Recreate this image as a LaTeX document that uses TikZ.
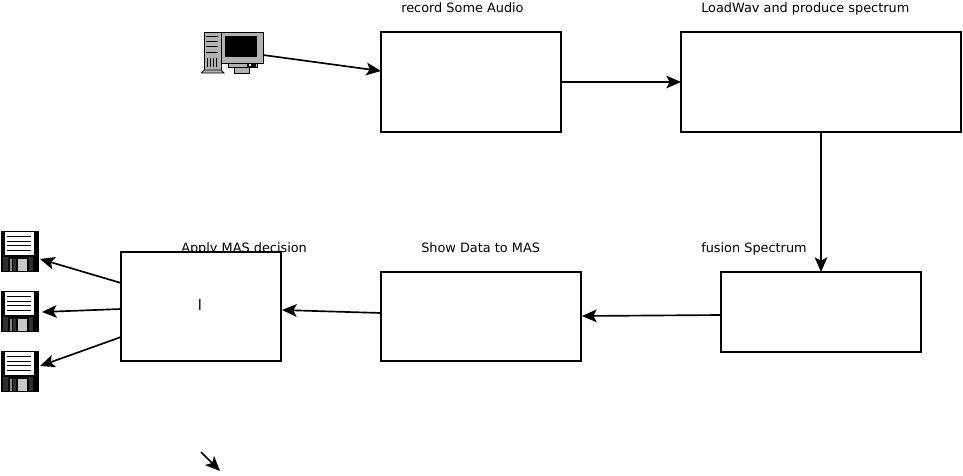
\documentclass[tikz,border=0pt]{standalone}
\usepackage{fontspec}
\setmainfont{DejaVu Sans}
\usetikzlibrary{arrows.meta}
\definecolor{pcgrey}{HTML}{B2B2B2}
\definecolor{fdark}{HTML}{303030}
\tikzset{
  procbox/.style={draw=black,fill=white,line width=1.1pt,inner sep=0pt,outer sep=0pt},
  caption/.style={anchor=base west,inner sep=0pt,font=\fontsize{9.65}{11}\selectfont,text=black},
  flow/.style={draw=black,line width=1.25pt,-{Stealth[length=11pt,width=9.5pt,inset=2.5pt]}},
  icon/.style={inner sep=0pt,outer sep=0pt},
  pcpic/.pic={
    \fill[pcgrey,draw=black,line width=.6pt] (204,32) rectangle (221,70);
    \fill[pcgrey,draw=black,line width=.6pt] (201.5,73) -- (204,70) -- (221,70) -- (224,73) -- cycle;
    \foreach \yy in {36,41,46}{\fill[black] (206,\yy) rectangle (218,\yy+.7);}
    \fill[black] (206,52) rectangle (218,53);
    \foreach \xx in {207,210,213,216}{\fill[black] (\xx,58) rectangle (\xx+1,67);}
    \fill[pcgrey,draw=black,line width=.6pt] (228,62) rectangle (257,67);
    \fill[pcgrey,draw=black,line width=.6pt] (234,67) rectangle (249,73);
    \fill[pcgrey,draw=black,line width=.6pt] (221,32) rectangle (263,63);
    \fill[black] (225,36) rectangle (257,57);
    \fill[black] (247,63) rectangle (256,67);
    \fill[white] (249,64) rectangle (251,66);
  },
  floppy/.pic={
    \fill[black] (1,0) rectangle (39,41);
    \fill[white] (5,1) rectangle (34,24);
    \foreach \yy in {5,10,14,19}{\fill[black] (7,\yy) rectangle (31,\yy+.8);}
    \fill[fdark] (3,26) rectangle (8,40);
    \fill[fdark] (29,26) rectangle (33,40);
    \fill[white!55!black] (10,28) rectangle (12,40);
    \fill[fdark] (13,28) rectangle (16,40);
    \fill[white!78!black] (18,28) rectangle (27,40);
  }
}
\begin{document}
\begin{tikzpicture}[x=.75pt,y=-.75pt]
\useasboundingbox (0,0) rectangle (963,475);
% captions lie under the boxes
\node[caption] (t1) at (401,12) {record Some Audio};
\node[caption] (t2) at (701,12) {LoadWav and produce spectrum};
\node[caption] (t3) at (181,252) {Apply MAS decision};
\node[caption] (t4) at (421,252) {Show Data to MAS};
\node[caption] (t5) at (701,252) {fusion Spectrum};
% boxes
\node[procbox,minimum width=135pt,minimum height=75pt] (rec) at (471,82) {};
\node[procbox,minimum width=210pt,minimum height=75pt] (load) at (821,82) {};
\node[procbox,minimum width=150pt,minimum height=60pt] (fus) at (821,312) {};
\node[procbox,minimum width=150pt,minimum height=66.75pt] (show) at (481,316.5) {};
\node[procbox,minimum width=120pt,minimum height=81.75pt] (app) at (201,306.5) {};
\node[caption,anchor=center,font=\fontsize{11}{13}\selectfont] (bar) at (200,304.5) {l};
% icons
\pic at (0,0) {pcpic};
\pic at (0,231) {floppy};
\pic at (0,291) {floppy};
\pic at (0,351) {floppy};
\node[icon,minimum width=46.5pt,minimum height=31.5pt] (pc) at (232,52) {};
\node[icon,minimum width=28.5pt,minimum height=30.75pt] (f1) at (20,251.5) {};
\node[icon,minimum width=28.5pt,minimum height=30.75pt] (f2) at (20,311.5) {};
\node[icon,minimum width=28.5pt,minimum height=30.75pt] (f3) at (20,371.5) {};
% connector ends
\coordinate (pcout) at (263,55);
\coordinate (recin) at (381,71);
\coordinate (fusout) at (721,315);
\coordinate (showin) at (582,316);
\coordinate (showout) at (381,313);
\coordinate (appin) at (282,310);
\coordinate (a1) at (121,283);
\coordinate (a2) at (121,309);
\coordinate (a3) at (121,337);
\coordinate (b1) at (40,259);
\coordinate (b2) at (42,312);
\coordinate (b3) at (40,366);
\coordinate (s1) at (201,452);
\coordinate (s2) at (220,471);
% connectors
\draw[flow] (pcout) -- (recin);
\draw[flow] (rec.east) -- (load.west);
\draw[flow] (load.south) -- (fus.north);
\draw[flow] (fusout) -- (showin);
\draw[flow] (showout) -- (appin);
\draw[flow] (a1) -- (b1);
\draw[flow] (a2) -- (b2);
\draw[flow] (a3) -- (b3);
\draw[flow] (s1) -- (s2);
\end{tikzpicture}
\end{document}
